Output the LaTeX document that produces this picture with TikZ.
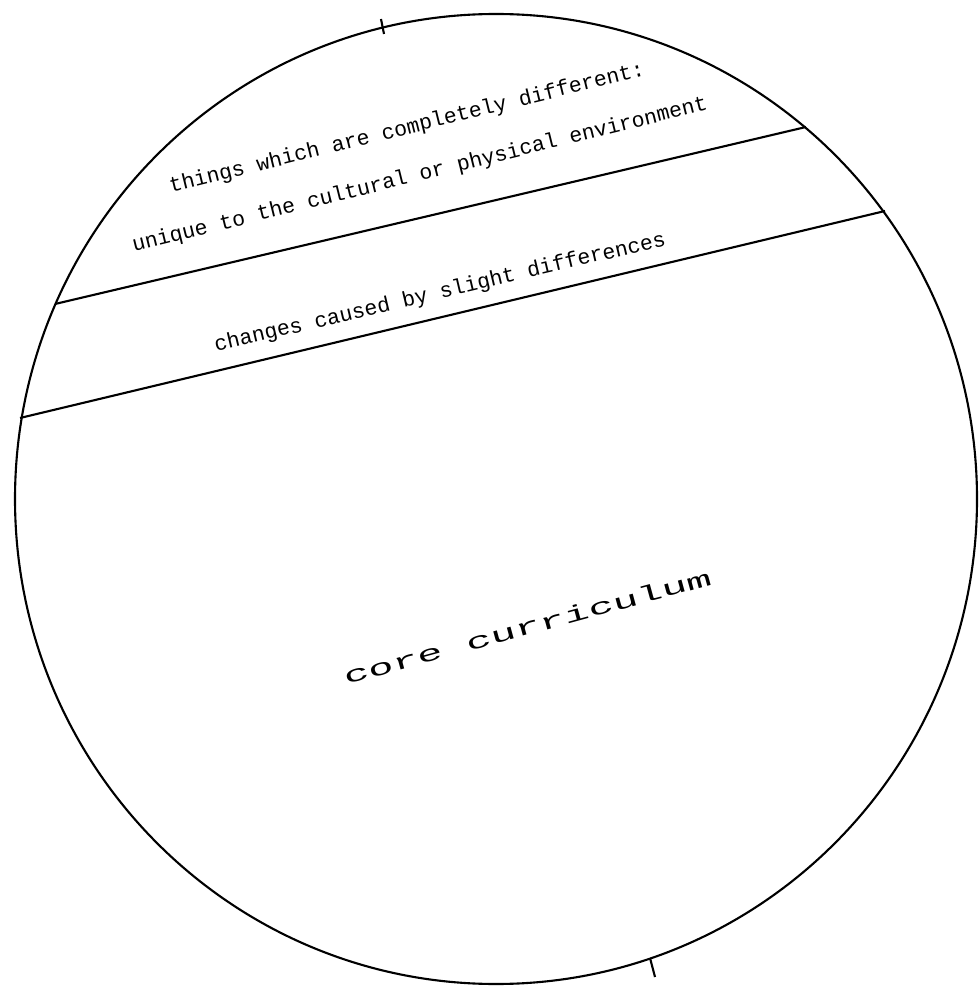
\documentclass[tikz,border=0pt]{standalone}
\usepackage{fontspec}
\usepackage{graphicx}
\newfontfamily\dotmono{Liberation Mono}
\usetikzlibrary{positioning}

\begin{document}
\begin{tikzpicture}[x=0.1mm, y=-0.1mm, line width=0.6pt,
    band/.style={font=\dotmono\fontsize{6.1}{7}\selectfont, anchor=base west, inner sep=0pt},
    core/.style={font=\dotmono\fontsize{6.5}{7}\selectfont, anchor=base west, inner sep=0pt, rotate=15.3}
  ]
    \useasboundingbox (0,0) rectangle (978,987);
    \draw (496,499) ellipse [x radius=4.81cm, y radius=4.85cm];
    \coordinate (b1w) at (55,304);
    \coordinate (b1e) at (806,127);
    \coordinate (b2w) at (20,418);
    \coordinate (b2e) at (885,211);
    \draw (b1w) -- (b1e);
    \draw (b2w) -- (b2e);
    \draw (381,19) -- (384,34);
    \draw (650,958) -- (655,977);
    \node[band, rotate=13.9] (diff) at (170,193) {things which are completely different:};
    \node[band, rotate=13.9] (uniq) at (133,252) {unique to the cultural or physical environment};
    \node[band, rotate=13.3] (slight) at (215,352) {changes caused by slight differences};
    \node[core] (cc) at (345,685) {\scalebox{1.85}[1]{core curriculum}};
  \end{tikzpicture}
\end{document}
